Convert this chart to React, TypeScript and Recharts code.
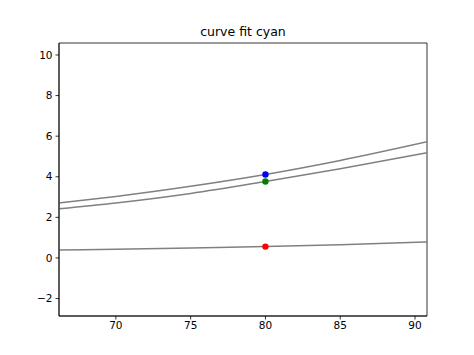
import React from 'react';
import { ComposedChart, Line, Scatter, XAxis, YAxis, ReferenceArea } from 'recharts';

const xTicks = [70, 75, 80, 85, 90];
const yTicks = [-2, 0, 2, 4, 6, 8, 10];
const xDomain: [number, number] = [66.2, 90.8];
const yDomain: [number, number] = [-2.86, 10.59];

const curveUpper = [
  { x: 66.2, y: 2.71 },
  { x: 70, y: 3.03 },
  { x: 75, y: 3.53 },
  { x: 80, y: 4.11 },
  { x: 85, y: 4.8 },
  { x: 90.8, y: 5.72 },
];
const curveLower = [
  { x: 66.2, y: 2.42 },
  { x: 70, y: 2.71 },
  { x: 75, y: 3.18 },
  { x: 80, y: 3.77 },
  { x: 85, y: 4.4 },
  { x: 90.8, y: 5.18 },
];
const curveBottom = [
  { x: 66.2, y: 0.39 },
  { x: 70, y: 0.43 },
  { x: 75, y: 0.49 },
  { x: 80, y: 0.56 },
  { x: 85, y: 0.65 },
  { x: 90.8, y: 0.79 },
];
const bluePoint = [{ x: 80, y: 4.11 }];
const greenPoint = [{ x: 80, y: 3.77 }];
const redPoint = [{ x: 80, y: 0.56 }];

const fmt = (v: number) => String(v).replace('-', '\u2212');
const tickStyle = { fill: '#000', fontSize: 10.5, fontFamily: 'DejaVu Sans' };

const Dot = (color: string) => (props: any) => (
  <circle cx={props.cx} cy={props.cy} r={3.2} fill={color} stroke="none" />
);

export default function App() {
  return (
    <div style={{ position: 'absolute', left: 0, top: 0, width: 474, height: 355, background: '#fff' }}>
      <ComposedChart width={474} height={355} margin={{ top: 43, right: 47, bottom: 0, left: 0 }}>
        <text x={243} y={36} textAnchor="middle" fontSize={12.5} fontFamily="DejaVu Sans" fill="#000">
          curve fit cyan
        </text>
        <XAxis
          type="number"
          dataKey="x"
          domain={xDomain}
          ticks={xTicks}
          allowDataOverflow
          height={39}
          tickSize={3.5}
          tickMargin={2}
          tick={tickStyle}
          tickFormatter={fmt}
          axisLine={{ stroke: '#000', strokeWidth: 0.8 }}
          tickLine={{ stroke: '#000', strokeWidth: 0.8 }}
        />
        <YAxis
          type="number"
          dataKey="y"
          domain={yDomain}
          ticks={yTicks}
          allowDataOverflow
          width={59}
          tickSize={3.5}
          tickMargin={3}
          tick={tickStyle}
          tickFormatter={fmt}
          axisLine={{ stroke: '#000', strokeWidth: 0.8 }}
          tickLine={{ stroke: '#000', strokeWidth: 0.8 }}
        />
        <ReferenceArea
          x1={xDomain[0]}
          x2={xDomain[1]}
          y1={yDomain[0]}
          y2={yDomain[1]}
          fill="none"
          stroke="#000"
          strokeWidth={0.8}
          ifOverflow="extendDomain"
        />
        <Line data={curveUpper} dataKey="y" type="monotone" stroke="#808080" strokeWidth={1.5} dot={false} isAnimationActive={false} />
        <Line data={curveLower} dataKey="y" type="monotone" stroke="#808080" strokeWidth={1.5} dot={false} isAnimationActive={false} />
        <Line data={curveBottom} dataKey="y" type="monotone" stroke="#808080" strokeWidth={1.5} dot={false} isAnimationActive={false} />
        <Scatter data={bluePoint} dataKey="y" fill="#0000ff" shape={Dot('#0000ff')} isAnimationActive={false} />
        <Scatter data={greenPoint} dataKey="y" fill="#008000" shape={Dot('#008000')} isAnimationActive={false} />
        <Scatter data={redPoint} dataKey="y" fill="#ff0000" shape={Dot('#ff0000')} isAnimationActive={false} />
      </ComposedChart>
    </div>
  );
}
